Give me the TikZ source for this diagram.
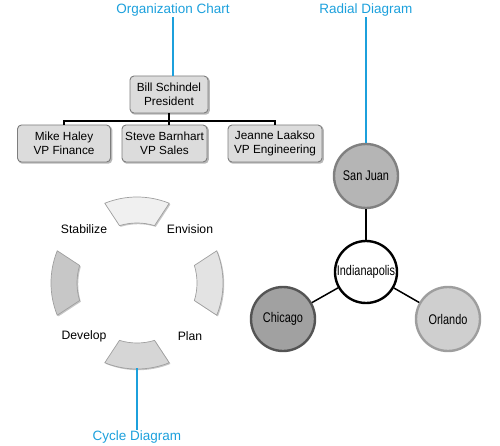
\documentclass[tikz,border=0pt]{standalone}
\usepackage{fontspec}
\setmainfont{Liberation Sans}
\usetikzlibrary{calc}
\pgfdeclarelayer{bg}
\pgfsetlayers{bg,main}
\definecolor{titleblue}{RGB}{28,160,220}
\definecolor{boxfill}{RGB}{220,220,220}
\definecolor{boxline}{RGB}{125,125,125}
\tikzset{
  x=1pt,y=1pt,
  title/.style={text=titleblue,font=\fontsize{13.5}{16}\selectfont,inner sep=1pt},
  blueline/.style={draw=titleblue,line width=2pt},
  orgbox/.style={draw=boxline,fill=boxfill,rounded corners=4pt,line width=0.9pt,
    minimum height=37pt,inner sep=1pt,align=center,font=\fontsize{11.8}{14}\selectfont},
  boxshadow/.style={fill=black!28,rounded corners=4pt},
  orgline/.style={draw=black,line width=1.4pt},
  city/.style={circle,line width=2.4pt,inner sep=0pt,minimum size=64pt,font=\fontsize{14}{16}\selectfont},
  radline/.style={draw=black,line width=1.5pt},
  seg/.style={draw=gray!75,line width=0.7pt},
  phase/.style={font=\fontsize{12.2}{14}\selectfont,inner sep=1pt}
}
\newcommand\mysegpath[1]{(#1+22:86) arc[start angle=#1+22,end angle=#1-22,radius=86]
    -- (#1-17:60) arc[start angle=#1-17,end angle=#1+17,radius=60] -- cycle}
\newcommand\mycycseg[2]{%
  \fill[black!22,shift={(138.2,160.8)}] \mysegpath{#1};
  \draw[seg,fill=#2,shift={(137,162)}] \mysegpath{#1};}
\newcommand\myboxshadow[1]{%
  \begin{pgfonlayer}{bg}
  \fill[boxshadow] ($(#1.south west)+(1.3,-1.3)$) rectangle ($(#1.north east)+(1.3,-1.3)$);
  \end{pgfonlayer}}
\begin{document}
\begin{tikzpicture}
\useasboundingbox (0,0) rectangle (500,445);
% ---------- Organization chart ----------
\node[title] (orgt) at (173,435) {Organization Chart};
\node[orgbox,minimum width=78pt] (bill) at (169,350.5) {Bill Schindel\\President};
\node[orgbox,minimum width=93pt] (mike) at (64,301.5) {Mike Haley\\VP Finance};
\node[orgbox,minimum width=85pt] (steve) at (164.5,301.5) {Steve Barnhart\\VP Sales};
\node[orgbox,minimum width=94pt] (jeanne) at (275,301.5) {Jeanne Laakso\\VP Engineering};
\myboxshadow{bill}
\myboxshadow{mike}
\myboxshadow{steve}
\myboxshadow{jeanne}
\coordinate (bus) at (169,324);
\draw[orgline] (bill.south) -- (bill.south |- steve.north);
\draw[orgline] (mike.north) -- (mike.north |- bus) -- (jeanne.north |- bus) -- (jeanne.north);
% ---------- Radial diagram ----------
\node[title] (radt) at (366,435) {Radial Diagram};
\node[city,draw=black!50,fill=black!29] (sj) at (366,269) {\scalebox{0.78}[1]{San Juan}};
\node[city,draw=black,fill=white,minimum size=62pt] (ind) at (366,173) {\scalebox{0.78}[1]{Indianapolis}};
\node[city,draw=black!67,fill=black!37] (chi) at (283,126) {\scalebox{0.78}[1]{Chicago}};
\node[city,draw=black!38,fill=black!19] (orl) at (448,126) {\scalebox{0.78}[1]{Orlando}};
\draw[radline] (sj) -- (ind);
\draw[radline] (ind) -- (chi);
\draw[radline] (ind) -- (orl);
% ---------- Cycle diagram ----------
\mycycseg{90}{black!6}
\mycycseg{0}{black!11}
\mycycseg{270}{black!16}
\mycycseg{180}{black!22}
\node[phase] (stab) at (84,216) {Stabilize};
\node[phase] (env) at (190,216) {Envision};
\node[phase] (dev) at (84,109) {Develop};
\node[phase] (plan) at (190,109) {Plan};
\coordinate (cycbot) at (137,77);
\node[title] (cyct) at (137,8) {Cycle Diagram};
% ---------- title leaders ----------
\draw[blueline] (orgt.south) -- (orgt.south |- bill.north);
\draw[blueline] (radt.south) -- (sj.north);
\draw[blueline] (cycbot) -- (cyct.north);
\end{tikzpicture}
\end{document}
